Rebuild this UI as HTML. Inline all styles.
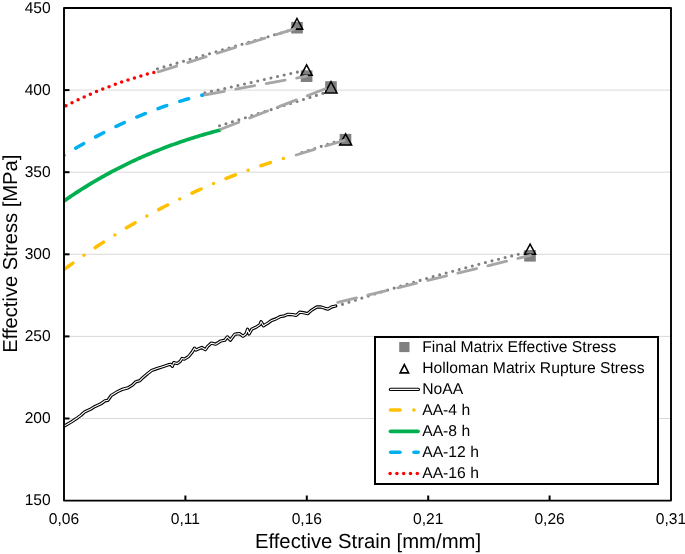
<!DOCTYPE html>
<html><head><meta charset="utf-8"><style>
html,body{margin:0;padding:0;background:#fff;width:685px;height:554px;overflow:hidden;}
svg{display:block;will-change:transform;}
text{font-family:"Liberation Sans",sans-serif;text-rendering:geometricPrecision;}
</style></head><body>
<svg width="685" height="554" viewBox="0 0 685 554">
<defs><clipPath id="pa"><rect x="65" y="9" width="605" height="490.6"/></clipPath></defs>
<rect width="685" height="554" fill="#fff"/>
<line x1="65" y1="418.50" x2="670" y2="418.50" stroke="#d9d9d9" stroke-width="1"/>
<line x1="65" y1="336.40" x2="670" y2="336.40" stroke="#d9d9d9" stroke-width="1"/>
<line x1="65" y1="254.30" x2="670" y2="254.30" stroke="#d9d9d9" stroke-width="1"/>
<line x1="65" y1="172.20" x2="670" y2="172.20" stroke="#d9d9d9" stroke-width="1"/>
<line x1="65" y1="90.10" x2="670" y2="90.10" stroke="#d9d9d9" stroke-width="1"/>
<line x1="64" y1="418.50" x2="69.5" y2="418.50" stroke="#000" stroke-width="2"/>
<line x1="64" y1="336.40" x2="69.5" y2="336.40" stroke="#000" stroke-width="2"/>
<line x1="64" y1="254.30" x2="69.5" y2="254.30" stroke="#000" stroke-width="2"/>
<line x1="64" y1="172.20" x2="69.5" y2="172.20" stroke="#000" stroke-width="2"/>
<line x1="64" y1="90.10" x2="69.5" y2="90.10" stroke="#000" stroke-width="2"/>
<line x1="185.40" y1="501" x2="185.40" y2="495.5" stroke="#000" stroke-width="2"/>
<line x1="306.80" y1="501" x2="306.80" y2="495.5" stroke="#000" stroke-width="2"/>
<line x1="428.20" y1="501" x2="428.20" y2="495.5" stroke="#000" stroke-width="2"/>
<line x1="549.60" y1="501" x2="549.60" y2="495.5" stroke="#000" stroke-width="2"/>
<rect x="291.20" y="21.90" width="11.6" height="11.6" fill="#808080"/>
<rect x="300.80" y="70.40" width="11.6" height="11.6" fill="#808080"/>
<rect x="325.20" y="81.20" width="11.6" height="11.6" fill="#808080"/>
<rect x="339.70" y="133.90" width="11.6" height="11.6" fill="#808080"/>
<rect x="524.20" y="250.00" width="11.6" height="11.6" fill="#808080"/>
<g clip-path="url(#pa)">
<path d="M62.00,427.20 L64.70,425.80 L71.70,421.70 L77.50,417.80 L81.00,415.20 L84.50,412.00 L90.40,409.30 L95.00,406.40 L100.90,403.80 L105.00,400.80 L107.90,400.30 L111.40,395.30 L117.20,391.80 L123.10,389.10 L127.80,387.90 L132.40,385.10 L135.80,381.80 L139.90,380.70 L142.80,377.70 L147.50,373.70 L151.60,370.50 L156.90,368.60 L162.70,366.70 L168.50,364.70 L170.90,364.30 L172.30,366.30 L173.80,362.60 L177.30,363.50 L180.20,361.40 L182.00,358.50 L184.30,359.10 L188.40,356.70 L192.30,351.90 L194.50,348.20 L195.90,350.10 L201.80,347.50 L205.40,349.70 L207.60,346.40 L211.30,343.10 L215.70,344.20 L220.80,341.00 L224.80,340.20 L227.30,336.90 L230.30,340.20 L234.60,334.40 L236.00,334.00 L239.50,333.60 L243.00,336.30 L245.90,334.00 L247.60,329.30 L249.10,334.00 L251.70,329.30 L256.40,327.00 L259.90,324.60 L261.10,321.70 L263.40,325.80 L267.60,323.30 L271.70,320.40 L275.80,318.90 L279.90,316.70 L284.50,315.80 L288.00,314.30 L292.70,314.60 L296.20,315.40 L299.70,312.20 L303.50,312.70 L307.60,313.70 L311.70,310.10 L316.80,307.00 L320.90,307.00 L325.00,308.30 L328.00,309.10 L332.10,306.80 L335.70,306.00" fill="none" stroke="#000" stroke-width="3.3" stroke-linejoin="round" stroke-linecap="round"/>
<path d="M62.00,427.20 L64.70,425.80 L71.70,421.70 L77.50,417.80 L81.00,415.20 L84.50,412.00 L90.40,409.30 L95.00,406.40 L100.90,403.80 L105.00,400.80 L107.90,400.30 L111.40,395.30 L117.20,391.80 L123.10,389.10 L127.80,387.90 L132.40,385.10 L135.80,381.80 L139.90,380.70 L142.80,377.70 L147.50,373.70 L151.60,370.50 L156.90,368.60 L162.70,366.70 L168.50,364.70 L170.90,364.30 L172.30,366.30 L173.80,362.60 L177.30,363.50 L180.20,361.40 L182.00,358.50 L184.30,359.10 L188.40,356.70 L192.30,351.90 L194.50,348.20 L195.90,350.10 L201.80,347.50 L205.40,349.70 L207.60,346.40 L211.30,343.10 L215.70,344.20 L220.80,341.00 L224.80,340.20 L227.30,336.90 L230.30,340.20 L234.60,334.40 L236.00,334.00 L239.50,333.60 L243.00,336.30 L245.90,334.00 L247.60,329.30 L249.10,334.00 L251.70,329.30 L256.40,327.00 L259.90,324.60 L261.10,321.70 L263.40,325.80 L267.60,323.30 L271.70,320.40 L275.80,318.90 L279.90,316.70 L284.50,315.80 L288.00,314.30 L292.70,314.60 L296.20,315.40 L299.70,312.20 L303.50,312.70 L307.60,313.70 L311.70,310.10 L316.80,307.00 L320.90,307.00 L325.00,308.30 L328.00,309.10 L332.10,306.80 L335.70,306.00" fill="none" stroke="#fff" stroke-width="1.1" stroke-linejoin="round" stroke-linecap="round"/>
<path d="M60.00,272.66 L62.97,270.43 L65.94,268.22 L68.92,266.03 L71.89,263.87 L74.86,261.72 L77.83,259.60 L80.81,257.49 L83.78,255.41 L86.75,253.35 L89.72,251.31 L92.69,249.29 L95.67,247.30 L98.64,245.32 L101.61,243.36 L104.58,241.42 L107.55,239.51 L110.53,237.61 L113.50,235.74 L116.47,233.88 L119.44,232.04 L122.42,230.23 L125.39,228.43 L128.36,226.65 L131.33,224.90 L134.30,223.16 L137.28,221.44 L140.25,219.74 L143.22,218.06 L146.19,216.40 L149.16,214.76 L152.14,213.13 L155.11,211.53 L158.08,209.94 L161.05,208.37 L164.03,206.82 L167.00,205.29 L169.97,203.78 L172.94,202.28 L175.91,200.80 L178.89,199.34 L181.86,197.90 L184.83,196.48 L187.80,195.07 L190.77,193.68 L193.75,192.31 L196.72,190.95 L199.69,189.62 L202.66,188.29 L205.64,186.99 L208.61,185.70 L211.58,184.43 L214.55,183.18 L217.52,181.94 L220.50,180.72 L223.47,179.52 L226.44,178.33 L229.41,177.15 L232.38,176.00 L235.36,174.86 L238.33,173.73 L241.30,172.62 L244.27,171.53 L247.25,170.45 L250.22,169.39 L253.19,168.34 L256.16,167.31 L259.13,166.29 L262.11,165.29 L265.08,164.30 L268.05,163.32 L271.02,162.37 L273.99,161.42 L276.97,160.49 L279.94,159.58 L282.91,158.67 L285.88,157.79 L288.86,156.91 L291.83,156.05 L294.80,155.21" fill="none" stroke="#FFC000" stroke-width="3.5" stroke-linecap="round" stroke-dasharray="10.0 13.55 0 13.55" stroke-dashoffset="31.10"/>
<path d="M62.00,202.39 L63.99,200.99 L65.99,199.61 L67.98,198.24 L69.97,196.88 L71.97,195.54 L73.96,194.22 L75.96,192.91 L77.95,191.61 L79.94,190.33 L81.94,189.06 L83.93,187.81 L85.92,186.57 L87.92,185.35 L89.91,184.13 L91.91,182.94 L93.90,181.75 L95.89,180.58 L97.89,179.42 L99.88,178.28 L101.87,177.15 L103.87,176.03 L105.86,174.92 L107.85,173.83 L109.85,172.75 L111.84,171.68 L113.84,170.63 L115.83,169.59 L117.82,168.56 L119.82,167.54 L121.81,166.54 L123.80,165.54 L125.80,164.56 L127.79,163.60 L129.78,162.64 L131.78,161.69 L133.77,160.76 L135.77,159.84 L137.76,158.93 L139.75,158.03 L141.75,157.14 L143.74,156.26 L145.73,155.40 L147.73,154.54 L149.72,153.70 L151.72,152.86 L153.71,152.04 L155.70,151.23 L157.70,150.43 L159.69,149.63 L161.68,148.85 L163.68,148.08 L165.67,147.32 L167.66,146.57 L169.66,145.83 L171.65,145.10 L173.65,144.37 L175.64,143.66 L177.63,142.96 L179.63,142.26 L181.62,141.58 L183.61,140.91 L185.61,140.24 L187.60,139.58 L189.59,138.93 L191.59,138.29 L193.58,137.66 L195.58,137.04 L197.57,136.43 L199.56,135.82 L201.56,135.22 L203.55,134.63 L205.54,134.05 L207.54,133.48 L209.53,132.92 L211.53,132.36 L213.52,131.81 L215.51,131.27 L217.51,130.73 L219.50,130.20" fill="none" stroke="#00B050" stroke-width="3.7" stroke-linecap="round"/>
<path d="M60.00,157.93 L61.81,156.78 L63.62,155.63 L65.43,154.50 L67.24,153.37 L69.05,152.25 L70.86,151.14 L72.67,150.04 L74.48,148.95 L76.29,147.87 L78.10,146.80 L79.91,145.74 L81.72,144.69 L83.53,143.64 L85.34,142.61 L87.15,141.58 L88.96,140.57 L90.77,139.56 L92.58,138.56 L94.39,137.57 L96.20,136.59 L98.01,135.62 L99.82,134.66 L101.63,133.71 L103.44,132.76 L105.25,131.83 L107.06,130.90 L108.87,129.99 L110.68,129.08 L112.49,128.18 L114.30,127.29 L116.11,126.42 L117.92,125.55 L119.73,124.68 L121.54,123.83 L123.35,122.99 L125.16,122.16 L126.97,121.33 L128.78,120.52 L130.59,119.71 L132.41,118.91 L134.22,118.13 L136.03,117.35 L137.84,116.58 L139.65,115.82 L141.46,115.07 L143.27,114.33 L145.08,113.59 L146.89,112.87 L148.70,112.15 L150.51,111.45 L152.32,110.75 L154.13,110.07 L155.94,109.39 L157.75,108.72 L159.56,108.06 L161.37,107.41 L163.18,106.77 L164.99,106.14 L166.80,105.51 L168.61,104.90 L170.42,104.29 L172.23,103.70 L174.04,103.11 L175.85,102.54 L177.66,101.97 L179.47,101.41 L181.28,100.86 L183.09,100.32 L184.90,99.79 L186.71,99.26 L188.52,98.75 L190.33,98.25 L192.14,97.75 L193.95,97.27 L195.76,96.79 L197.57,96.32 L199.38,95.87 L201.19,95.42 L203.00,94.98" fill="none" stroke="#00B0F0" stroke-width="3.5" stroke-linecap="round" stroke-dasharray="9.2 13.68" stroke-dashoffset="4.40"/>
<path d="M60.00,108.70 L61.20,108.08 L62.41,107.46 L63.61,106.85 L64.81,106.24 L66.01,105.63 L67.22,105.03 L68.42,104.43 L69.62,103.84 L70.82,103.25 L72.03,102.67 L73.23,102.08 L74.43,101.51 L75.63,100.93 L76.84,100.36 L78.04,99.80 L79.24,99.24 L80.44,98.68 L81.65,98.13 L82.85,97.58 L84.05,97.03 L85.25,96.49 L86.46,95.96 L87.66,95.42 L88.86,94.90 L90.06,94.37 L91.27,93.85 L92.47,93.34 L93.67,92.82 L94.87,92.32 L96.08,91.81 L97.28,91.31 L98.48,90.82 L99.68,90.32 L100.89,89.84 L102.09,89.35 L103.29,88.87 L104.49,88.40 L105.70,87.93 L106.90,87.46 L108.10,87.00 L109.30,86.54 L110.51,86.08 L111.71,85.63 L112.91,85.18 L114.11,84.74 L115.32,84.30 L116.52,83.87 L117.72,83.44 L118.92,83.01 L120.13,82.59 L121.33,82.17 L122.53,81.76 L123.73,81.35 L124.94,80.94 L126.14,80.54 L127.34,80.14 L128.54,79.75 L129.75,79.36 L130.95,78.97 L132.15,78.59 L133.35,78.21 L134.56,77.84 L135.76,77.47 L136.96,77.11 L138.16,76.74 L139.37,76.39 L140.57,76.03 L141.77,75.69 L142.97,75.34 L144.18,75.00 L145.38,74.66 L146.58,74.33 L147.78,74.00 L148.99,73.68 L150.19,73.36 L151.39,73.04 L152.59,72.73 L153.80,72.42 L155.00,72.12" fill="none" stroke="#FF0000" stroke-width="3.5" stroke-linecap="round" stroke-dasharray="0 6.72" stroke-dashoffset="6.70"/>
</g>
<line x1="157.5" y1="68.8" x2="297" y2="28.3" stroke="#7F7F7F" stroke-width="3.1" stroke-linecap="round" stroke-dasharray="0 6.77"/>
<line x1="204.9" y1="92.9" x2="306.6" y2="70.0" stroke="#7F7F7F" stroke-width="3.1" stroke-linecap="round" stroke-dasharray="0 6.77"/>
<line x1="219.5" y1="125.8" x2="331" y2="90.8" stroke="#7F7F7F" stroke-width="3.1" stroke-linecap="round" stroke-dasharray="0 6.77"/>
<line x1="301.9" y1="152.6" x2="345.5" y2="138.5" stroke="#7F7F7F" stroke-width="3.1" stroke-linecap="round" stroke-dasharray="0 6.77"/>
<path d="M342.50,304.37 L345.68,303.33 L348.86,302.29 L352.03,301.26 L355.21,300.24 L358.39,299.22 L361.57,298.20 L364.75,297.19 L367.92,296.19 L371.10,295.19 L374.28,294.19 L377.46,293.20 L380.64,292.22 L383.81,291.24 L386.99,290.26 L390.17,289.29 L393.35,288.33 L396.53,287.37 L399.70,286.41 L402.88,285.46 L406.06,284.52 L409.24,283.58 L412.42,282.64 L415.59,281.71 L418.77,280.79 L421.95,279.87 L425.13,278.95 L428.31,278.04 L431.48,277.13 L434.66,276.23 L437.84,275.34 L441.02,274.45 L444.19,273.56 L447.37,272.68 L450.55,271.80 L453.73,270.93 L456.91,270.07 L460.08,269.21 L463.26,268.35 L466.44,267.50 L469.62,266.65 L472.80,265.81 L475.97,264.97 L479.15,264.14 L482.33,263.32 L485.51,262.50 L488.69,261.68 L491.86,260.87 L495.04,260.06 L498.22,259.26 L501.40,258.46 L504.58,257.67 L507.75,256.88 L510.93,256.10 L514.11,255.33 L517.29,254.55 L520.47,253.79 L523.64,253.02 L526.82,252.27 L530.00,251.52" fill="none" stroke="#7F7F7F" stroke-width="3.1" stroke-linecap="round" stroke-dasharray="0 6.77"/>
<path d="M297.00,18.50 L302.66,29.12 L291.34,29.12 Z" fill="none" stroke="#000" stroke-width="1.55" stroke-linejoin="miter"/>
<path d="M306.60,64.90 L312.10,75.22 L301.10,75.22 Z" fill="none" stroke="#000" stroke-width="1.55" stroke-linejoin="miter"/>
<path d="M331.00,81.70 L336.97,92.92 L325.03,92.92 Z" fill="none" stroke="#000" stroke-width="1.55" stroke-linejoin="miter"/>
<path d="M345.60,133.80 L351.57,145.03 L339.63,145.03 Z" fill="none" stroke="#000" stroke-width="1.55" stroke-linejoin="miter"/>
<path d="M530.10,244.10 L535.50,254.22 L524.70,254.22 Z" fill="none" stroke="#000" stroke-width="1.55" stroke-linejoin="miter"/>
<line x1="158.23" y1="71.88" x2="297" y2="28.0" stroke="#A6A6A6" stroke-width="2.8" stroke-linecap="round" stroke-dasharray="19.3 11.6"/>
<line x1="205.38" y1="94.75" x2="306.6" y2="76.2" stroke="#A6A6A6" stroke-width="2.8" stroke-linecap="round" stroke-dasharray="19.3 11.6"/>
<line x1="220.81" y1="129.19" x2="331" y2="86.5" stroke="#A6A6A6" stroke-width="2.8" stroke-linecap="round" stroke-dasharray="19.3 11.6"/>
<line x1="296.14" y1="154.99" x2="345.5" y2="140.0" stroke="#A6A6A6" stroke-width="2.8" stroke-linecap="round" stroke-dasharray="19.3 11.6"/>
<line x1="337.76" y1="302.47" x2="530.4" y2="255.4" stroke="#A6A6A6" stroke-width="2.8" stroke-linecap="round" stroke-dasharray="19.3 11.6"/>
<rect x="64" y="8" width="607" height="492.6" fill="none" stroke="#000" stroke-width="1.9" stroke-linejoin="round"/>
<text transform="translate(50.7,505.20) " font-family="Liberation Sans, sans-serif" font-size="15.6" text-anchor="end" fill="#000">150</text>
<text transform="translate(50.7,423.10) " font-family="Liberation Sans, sans-serif" font-size="15.6" text-anchor="end" fill="#000">200</text>
<text transform="translate(50.7,341.00) " font-family="Liberation Sans, sans-serif" font-size="15.6" text-anchor="end" fill="#000">250</text>
<text transform="translate(50.7,258.90) " font-family="Liberation Sans, sans-serif" font-size="15.6" text-anchor="end" fill="#000">300</text>
<text transform="translate(50.7,176.80) " font-family="Liberation Sans, sans-serif" font-size="15.6" text-anchor="end" fill="#000">350</text>
<text transform="translate(50.7,94.70) " font-family="Liberation Sans, sans-serif" font-size="15.6" text-anchor="end" fill="#000">400</text>
<text transform="translate(50.7,12.60) " font-family="Liberation Sans, sans-serif" font-size="15.6" text-anchor="end" fill="#000">450</text>
<text transform="translate(64.00,524.3) " font-family="Liberation Sans, sans-serif" font-size="15.6" text-anchor="middle" fill="#000">0,06</text>
<text transform="translate(185.40,524.3) " font-family="Liberation Sans, sans-serif" font-size="15.6" text-anchor="middle" fill="#000">0,11</text>
<text transform="translate(306.80,524.3) " font-family="Liberation Sans, sans-serif" font-size="15.6" text-anchor="middle" fill="#000">0,16</text>
<text transform="translate(428.20,524.3) " font-family="Liberation Sans, sans-serif" font-size="15.6" text-anchor="middle" fill="#000">0,21</text>
<text transform="translate(549.60,524.3) " font-family="Liberation Sans, sans-serif" font-size="15.6" text-anchor="middle" fill="#000">0,26</text>
<text transform="translate(671.00,524.3) " font-family="Liberation Sans, sans-serif" font-size="15.6" text-anchor="middle" fill="#000">0,31</text>
<text x="368" y="547.6" font-family="Liberation Sans, sans-serif" font-size="20.3" text-anchor="middle" fill="#000">Effective Strain [mm/mm]</text>
<text transform="translate(16.8,253.7) rotate(-90)" x="0" y="0" font-family="Liberation Sans, sans-serif" font-size="20.2" text-anchor="middle" fill="#000">Effective Stress [MPa]</text>
<rect x="375" y="337" width="283" height="147" fill="#fff" stroke="#000" stroke-width="2"/>
<text x="422.2" y="352.2" font-family="Liberation Sans, sans-serif" font-size="15.7" fill="#000">Final Matrix Effective Stress</text>
<text x="422.2" y="373.2" font-family="Liberation Sans, sans-serif" font-size="15.7" fill="#000">Holloman Matrix Rupture Stress</text>
<text x="422.2" y="394.2" font-family="Liberation Sans, sans-serif" font-size="15.7" fill="#000">NoAA</text>
<text x="422.2" y="415.2" font-family="Liberation Sans, sans-serif" font-size="15.7" fill="#000">AA-4 h</text>
<text x="422.2" y="436.2" font-family="Liberation Sans, sans-serif" font-size="15.7" fill="#000">AA-8 h</text>
<text x="422.2" y="457.2" font-family="Liberation Sans, sans-serif" font-size="15.7" fill="#000">AA-12 h</text>
<text x="422.2" y="478.2" font-family="Liberation Sans, sans-serif" font-size="15.7" fill="#000">AA-16 h</text>
<rect x="399.2" y="342" width="10.3" height="10.1" fill="#808080"/>
<path d="M404.35,364.6 L408.6,372.85 L400.1,372.85 Z" fill="#fff" stroke="#000" stroke-width="1.6"/>
<line x1="390.5" y1="389.4" x2="418.3" y2="389.4" stroke="#000" stroke-width="3.4" stroke-linecap="round"/>
<line x1="390.5" y1="389.4" x2="418.3" y2="389.4" stroke="#fff" stroke-width="1.2" stroke-linecap="round"/>
<line x1="390.5" y1="410.1" x2="400" y2="410.1" stroke="#FFC000" stroke-width="3.5" stroke-linecap="round"/>
<circle cx="413.9" cy="410.1" r="1.75" fill="#FFC000"/>
<line x1="390.5" y1="431.3" x2="418" y2="431.3" stroke="#00B050" stroke-width="3.7" stroke-linecap="round"/>
<line x1="390.6" y1="452.3" x2="400" y2="452.3" stroke="#00B0F0" stroke-width="3.5" stroke-linecap="round"/>
<line x1="414" y1="452.3" x2="418.2" y2="452.3" stroke="#00B0F0" stroke-width="3.5" stroke-linecap="round"/>
<circle cx="390.1" cy="473.5" r="1.75" fill="#FF0000"/>
<circle cx="396.9" cy="473.5" r="1.75" fill="#FF0000"/>
<circle cx="403.7" cy="473.5" r="1.75" fill="#FF0000"/>
<circle cx="410.5" cy="473.5" r="1.75" fill="#FF0000"/>
<circle cx="417.3" cy="473.5" r="1.75" fill="#FF0000"/>
</svg>
</body></html>
